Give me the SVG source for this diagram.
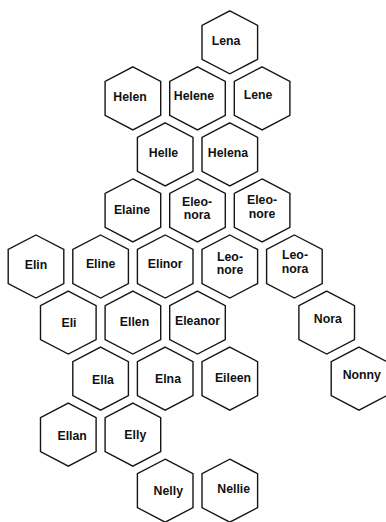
<svg xmlns="http://www.w3.org/2000/svg" xmlns:xlink="http://www.w3.org/1999/xlink" width="386" height="522" viewBox="0 0 386 522">
<style>
.h{fill:#fff;stroke:#151515;stroke-width:1.4;stroke-linejoin:miter}
text{font-family:"Liberation Sans",Arial,sans-serif;font-weight:bold;font-size:12.3px;fill:#111;text-anchor:middle}
</style>
<defs>
<polygon id="hex" class="h" points="0,-31.5 27.8,-17 27.8,17 0,31.5 -27.8,17 -27.8,-17"/>
</defs>
<rect width="386" height="522" fill="#fff"/>
<g id="connectors"/>
<g id="lena"><use xlink:href="#hex" href="#hex" x="229.8" y="42.3"/><text x="226" y="45">Lena</text></g>
<g id="helen"><use xlink:href="#hex" href="#hex" x="132.9" y="98.35"/><text x="130" y="101">Helen</text></g>
<g id="helene"><use xlink:href="#hex" href="#hex" x="197.5" y="98.35"/><text x="194" y="100">Helene</text></g>
<g id="lene"><use xlink:href="#hex" href="#hex" x="262.1" y="98.35"/><text x="258" y="98.5">Lene</text></g>
<g id="helle"><use xlink:href="#hex" href="#hex" x="165.2" y="154.4"/><text x="163.5" y="157.3">Helle</text></g>
<g id="helena"><use xlink:href="#hex" href="#hex" x="229.8" y="154.4"/><text x="228" y="156.7">Helena</text></g>
<g id="elaine"><use xlink:href="#hex" href="#hex" x="132.9" y="210.45"/><text x="132" y="214">Elaine</text></g>
<g id="eleonora"><use xlink:href="#hex" href="#hex" x="197.5" y="210.45"/><text x="197" y="205.7">Eleo-</text><text x="197" y="219.3">nora</text></g>
<g id="eleonore"><use xlink:href="#hex" href="#hex" x="262.1" y="210.45"/><text x="262" y="204.2">Eleo-</text><text x="262" y="217.8">nore</text></g>
<g id="elin"><use xlink:href="#hex" href="#hex" x="36" y="266.5"/><text x="36" y="269.3">Elin</text></g>
<g id="eline"><use xlink:href="#hex" href="#hex" x="100.6" y="266.5"/><text x="100.6" y="268.3">Eline</text></g>
<g id="elinor"><use xlink:href="#hex" href="#hex" x="165.2" y="266.5"/><text x="165.2" y="267.7">Elinor</text></g>
<g id="leonore"><use xlink:href="#hex" href="#hex" x="229.8" y="266.5"/><text x="230" y="260.8">Leo-</text><text x="230" y="274.4">nore</text></g>
<g id="leonora"><use xlink:href="#hex" href="#hex" x="294.4" y="266.5"/><text x="295" y="259.2">Leo-</text><text x="295" y="272.8">nora</text></g>
<g id="eli"><use xlink:href="#hex" href="#hex" x="68.3" y="322.55"/><text x="69" y="326.7">Eli</text></g>
<g id="ellen"><use xlink:href="#hex" href="#hex" x="132.9" y="322.55"/><text x="134.5" y="326">Ellen</text></g>
<g id="eleanor"><use xlink:href="#hex" href="#hex" x="197.5" y="322.55"/><text x="197.5" y="325">Eleanor</text></g>
<g id="nora"><use xlink:href="#hex" href="#hex" x="326.7" y="322.55"/><text x="327.8" y="322.7">Nora</text></g>
<g id="ella"><use xlink:href="#hex" href="#hex" x="100.6" y="378.6"/><text x="103" y="384">Ella</text></g>
<g id="elna"><use xlink:href="#hex" href="#hex" x="165.2" y="378.6"/><text x="168" y="382.7">Elna</text></g>
<g id="eileen"><use xlink:href="#hex" href="#hex" x="229.8" y="378.6"/><text x="233" y="381.7">Eileen</text></g>
<g id="nonny"><use xlink:href="#hex" href="#hex" x="359" y="378.6"/><text x="361.8" y="379">Nonny</text></g>
<g id="ellan"><use xlink:href="#hex" href="#hex" x="68.3" y="434.65"/><text x="72.2" y="440">Ellan</text></g>
<g id="elly"><use xlink:href="#hex" href="#hex" x="132.9" y="434.65"/><text x="135.3" y="439">Elly</text></g>
<g id="nelly"><use xlink:href="#hex" href="#hex" x="165.2" y="490.7"/><text x="168.3" y="495">Nelly</text></g>
<g id="nellie"><use xlink:href="#hex" href="#hex" x="229.8" y="490.7"/><text x="233.7" y="493.3">Nellie</text></g>
</svg>
